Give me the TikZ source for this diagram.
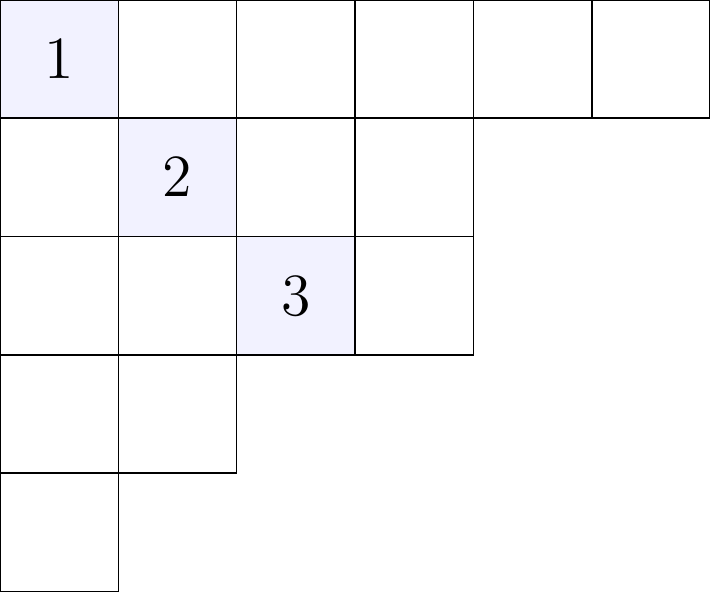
\documentclass[tikz,border=0pt]{standalone}
\usepackage{amsmath}
\usepackage{amssymb}

\begin{document}
\begin{tikzpicture}
	\useasboundingbox (0,0) rectangle (6,-5);
	\fill [blue!5,draw=black] (0,0) rectangle (1,-1) (1,-1) rectangle (2,-2) (2,-2) rectangle (3,-3);
	\draw (1,0) rectangle (2,-1) (2,0) rectangle (3,-1) (3,0) rectangle (4,-1) (4,0) rectangle (5,-1) (5,0) rectangle (6,-1);
	\draw (0,-1) rectangle (1,-2) (2,-1) rectangle (3,-2) (3,-1) rectangle (4,-2);
	\draw (0,-2) rectangle (1,-3) (1,-2) rectangle (2,-3) (3,-2) rectangle (4,-3);
	\draw (0,-3) rectangle (1,-4) (1,-3) rectangle (2,-4);
	\draw (0,-4) rectangle (1,-5);
	\node (one) at (0.5,-0.5) {\Large $1$};
	\node (two) at (1.5,-1.5) {\Large $2$};
	\node (three) at (2.5,-2.5) {\Large $3$};
    \end{tikzpicture}
\end{document}
